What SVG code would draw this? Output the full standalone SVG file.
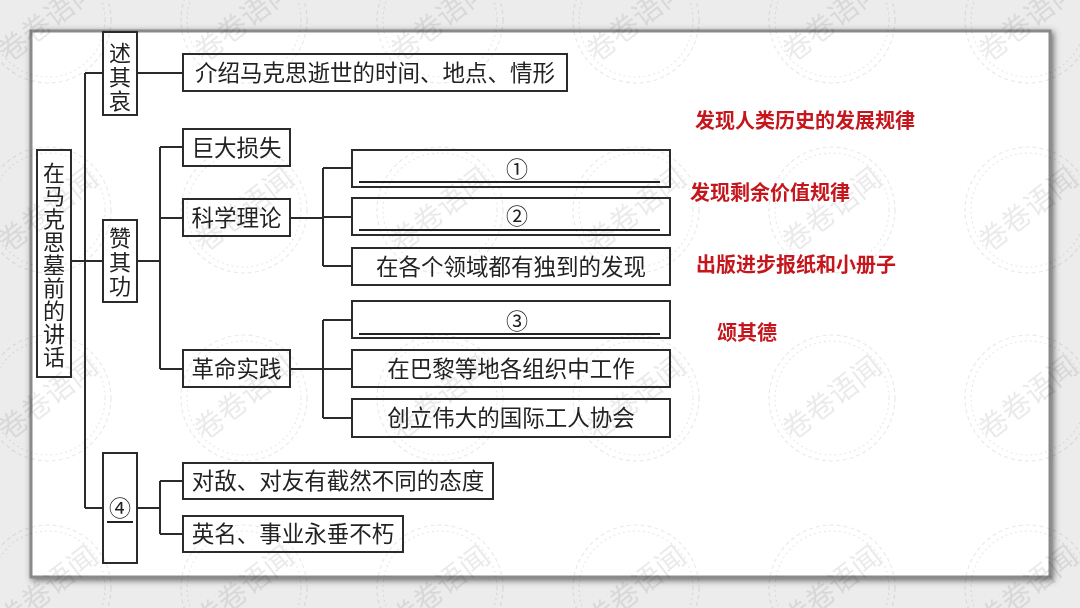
<svg xmlns="http://www.w3.org/2000/svg" width="1080" height="608" viewBox="0 0 1080 608">
<style>
.box{fill:none;stroke:#2b2b2b;stroke-width:2}
.t{font-family:"Noto Sans CJK SC","Noto Sans CJK JP",sans-serif;font-size:22.5px;fill:#222;text-anchor:middle}
.v{font-family:"Noto Sans CJK SC",sans-serif;font-size:22px;fill:#222;writing-mode:vertical-rl;text-orientation:upright}
.num{font-family:"DejaVu Serif","Noto Sans CJK SC",serif;font-size:22px;fill:#222;text-anchor:middle}
.ul{stroke:#222;stroke-width:2}
.red{font-family:"Noto Sans CJK SC",sans-serif;font-size:20px;font-weight:bold;fill:#c4161c}
.conn path{fill:none;stroke:#2b2b2b;stroke-width:2}
.wm circle{fill:none;stroke:#000;stroke-width:1.2}
.wm text{font-family:"Noto Sans CJK SC",sans-serif;font-size:29px;fill:#000}
</style>
<defs>
<filter id="sh" x="-5%" y="-5%" width="110%" height="110%">
<feDropShadow dx="2" dy="2" stdDeviation="3" flood-color="#444" flood-opacity="0.8"/>
</filter>
<g id="stamp" class="wm">
<circle r="63" stroke-dasharray="4 3"/>
<circle r="57" stroke-dasharray="2 3"/>
<text x="0" y="10" text-anchor="middle" transform="rotate(-38)">卷卷语闻</text>
</g>
</defs>
<rect width="1080" height="608" fill="#ececec"/>
<rect x="31" y="31" width="1019" height="546" fill="#fff" stroke="#8a8a8a" stroke-width="3" filter="url(#sh)"/>
<g id="watermarks" opacity="0.085">
<use href="#stamp" x="48" y="20"/><use href="#stamp" x="244" y="20"/><use href="#stamp" x="440" y="20"/><use href="#stamp" x="636" y="20"/><use href="#stamp" x="832" y="20"/><use href="#stamp" x="1028" y="20"/>
<use href="#stamp" x="48" y="210"/><use href="#stamp" x="244" y="210"/><use href="#stamp" x="440" y="210"/><use href="#stamp" x="636" y="210"/><use href="#stamp" x="832" y="210"/><use href="#stamp" x="1028" y="210"/>
<use href="#stamp" x="48" y="398"/><use href="#stamp" x="244" y="398"/><use href="#stamp" x="440" y="398"/><use href="#stamp" x="636" y="398"/><use href="#stamp" x="832" y="398"/><use href="#stamp" x="1028" y="398"/>
<use href="#stamp" x="48" y="588"/><use href="#stamp" x="244" y="588"/><use href="#stamp" x="440" y="588"/><use href="#stamp" x="636" y="588"/><use href="#stamp" x="832" y="588"/><use href="#stamp" x="1028" y="588"/>
</g>
<g class="conn" id="connectors">
<path d="M85,73 V508"/>
<path d="M71,261 H103"/>
<path d="M85,73 H103"/>
<path d="M85,508 H103"/>
<path d="M137,73 H183"/>
<path d="M137,261 H160"/>
<path d="M160,147 V369"/>
<path d="M160,147 H183 M160,218 H183 M160,369 H183"/>
<path d="M290,218 H323"/>
<path d="M323,168 V266"/>
<path d="M323,168 H352 M323,217 H352 M323,266 H352"/>
<path d="M290,369 H323"/>
<path d="M323,320 V418"/>
<path d="M323,320 H352 M323,369 H352 M323,418 H352"/>
<path d="M137,508 H160"/>
<path d="M160,481 V534"/>
<path d="M160,481 H183 M160,534 H183"/>
</g>
<g id="root">
<rect class="box" x="37" y="150" width="34" height="227"/>
<text class="v" x="54" y="162" letter-spacing="1">在马克思墓前的讲话</text>
</g>
<g id="shuqiai">
<rect class="box" x="103" y="32" width="34" height="83"/>
<text class="v" x="120" y="42" letter-spacing="2">述其哀</text>
</g>
<g id="zanqigong">
<rect class="box" x="103" y="220" width="34" height="82"/>
<text class="v" x="120" y="227" letter-spacing="2">赞其功</text>
</g>
<g id="blank4">
<rect class="box" x="103" y="453" width="34" height="110"/>
<text class="num" x="120" y="516">④</text>
<line class="ul" x1="107" y1="522" x2="133" y2="522"/>
</g>
<g id="jieshao">
<rect class="box" x="183" y="54" width="384" height="37"/>
<text class="t" x="375" y="81">介绍马克思逝世的时间、地点、情形</text>
</g>
<g id="judasunshi">
<rect class="box" x="183" y="129" width="107" height="37"/>
<text class="t" x="236.5" y="156">巨大损失</text>
</g>
<g id="kexuelilun">
<rect class="box" x="183" y="199" width="107" height="37"/>
<text class="t" x="236.5" y="226">科学理论</text>
</g>
<g id="gemingshijian">
<rect class="box" x="183" y="350" width="107" height="37"/>
<text class="t" x="236.5" y="377">革命实践</text>
</g>
<g id="blank1">
<rect class="box" x="352" y="150" width="318" height="37"/>
<text class="num" x="517" y="177">①</text>
<line class="ul" x1="359" y1="182" x2="660" y2="182"/>
</g>
<g id="blank2">
<rect class="box" x="352" y="198" width="318" height="37"/>
<text class="num" x="517" y="224">②</text>
<line class="ul" x1="359" y1="230" x2="660" y2="230"/>
</g>
<g id="faxian">
<rect class="box" x="352" y="248" width="318" height="37"/>
<text class="t" x="511" y="275">在各个领域都有独到的发现</text>
</g>
<g id="blank3">
<rect class="box" x="352" y="301" width="318" height="37"/>
<text class="num" x="517" y="329">③</text>
<line class="ul" x1="359" y1="334" x2="660" y2="334"/>
</g>
<g id="bali">
<rect class="box" x="352" y="350" width="318" height="37"/>
<text class="t" x="511" y="377">在巴黎等地各组织中工作</text>
</g>
<g id="guoji">
<rect class="box" x="352" y="399" width="318" height="38"/>
<text class="t" x="511" y="426">创立伟大的国际工人协会</text>
</g>
<g id="duidi">
<rect class="box" x="183" y="463" width="310" height="36"/>
<text class="t" x="338" y="489">对敌、对友有截然不同的态度</text>
</g>
<g id="yingming">
<rect class="box" x="183" y="516" width="220" height="36"/>
<text class="t" x="293" y="542">英名、事业永垂不朽</text>
</g>
<g id="answers">
<text class="red" x="695" y="128">发现人类历史的发展规律</text>
<text class="red" x="690" y="200">发现剩余价值规律</text>
<text class="red" x="696" y="272">出版进步报纸和小册子</text>
<text class="red" x="717" y="340" font-size="19">颂其德</text>
</g>
</svg>
